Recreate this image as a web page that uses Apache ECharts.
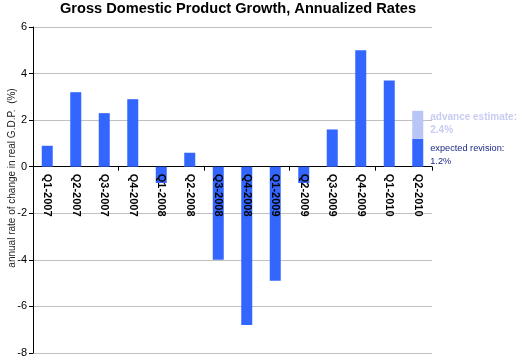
<!DOCTYPE html>
<html>
<head>
<meta charset="utf-8">
<script src="https://cdn.jsdelivr.net/npm/echarts@6/dist/echarts.min.js"></script>
<style>html,body{margin:0;padding:0;background:#fff;}#c{width:522px;height:360px;}</style>
</head>
<body>
<div id="c"></div>
<script>
var categories = ['Q1-2007','Q2-2007','Q3-2007','Q4-2007','Q1-2008','Q2-2008','Q3-2008','Q4-2008','Q1-2009','Q2-2009','Q3-2009','Q4-2009','Q1-2010','Q2-2010'];
var gdpGrowth = [0.9, 3.2, 2.3, 2.9, -0.7, 0.6, -4.0, -6.8, -4.9, -0.7, 1.6, 5.0, 3.7, 1.2];
var advanceExtra = [null, null, null, null, null, null, null, null, null, null, null, null, null, 1.2];
var labelAnchor = [0, 0, 0, 0, 0, 0, 0, 0, 0, 0, 0, 0, 0, 0];
var advanceEstimate = 2.4;
var expectedRevision = 1.2;
var yTicks = {min: -8, max: 6, interval: 2};

var lastIdx = categories.length - 1;
var darkData = gdpGrowth.map(function (v, i) {
  if (i === lastIdx) {
    return {
      value: v,
      label: {
        show: true,
        position: [18, 3],
        formatter: 'expected revision:\n' + expectedRevision.toFixed(1) + '%',
        color: '#1c2a86',
        fontFamily: 'Liberation Sans',
        fontSize: 9.2,
        lineHeight: 13,
        align: 'left',
        verticalAlign: 'top'
      }
    };
  }
  return v;
});
var lightData = advanceExtra.map(function (v, i) {
  if (v !== null && i === lastIdx) {
    return {
      value: v,
      label: {
        show: true,
        position: [18, 0],
        formatter: 'advance estimate:\n' + advanceEstimate.toFixed(1) + '%',
        color: '#c9ccf2',
        fontFamily: 'Liberation Sans',
        fontWeight: 'bold',
        fontSize: 10,
        lineHeight: 13,
        align: 'left',
        verticalAlign: 'top'
      }
    };
  }
  return v;
});

var chart = echarts.init(document.getElementById('c'), null, {renderer: 'canvas'});
chart.setOption({
  animation: false,
  backgroundColor: '#ffffff',
  title: {
    text: 'Gross Domestic Product Growth, Annualized Rates',
    left: 238, textAlign: 'center', top: 1, padding: 0,
    textStyle: {fontFamily: 'Liberation Sans', fontWeight: 'bold', fontSize: 14.6, color: '#000'}
  },
  grid: {left: 33, right: 90, top: 27, bottom: 7, containLabel: false, outerBoundsMode: 'none'},
  xAxis: {
    type: 'category',
    data: categories,
    axisLine: {onZero: true, lineStyle: {color: '#000', width: 1}},
    axisTick: {show: true, length: 4, alignWithLabel: false, lineStyle: {color: '#000'}},
    axisLabel: {show: false},
    splitLine: {show: false}
  },
  yAxis: {
    type: 'value',
    min: yTicks.min, max: yTicks.max, interval: yTicks.interval,
    name: 'annual rate of change in real G.D.P.  (%)',
    nameLocation: 'middle', nameGap: 16, nameRotate: 90, nameMoveOverlap: false,
    nameTextStyle: {fontFamily: 'Liberation Sans', fontSize: 10, color: '#222', padding: [0, 0, 0, 24]},
    axisLine: {show: true, lineStyle: {color: '#000', width: 1}},
    axisTick: {show: true, length: 4, lineStyle: {color: '#000'}},
    axisLabel: {margin: 6, fontFamily: 'Liberation Sans', fontSize: 11, color: '#000'},
    splitLine: {show: true, lineStyle: {color: '#c0c0c0', width: 1}}
  },
  series: [
    {
      type: 'bar', stack: 'gdp', data: labelAnchor, barWidth: 11, z: 6,
      silent: true,
      itemStyle: {color: 'rgba(0,0,0,0)'},
      label: {
        show: true, position: 'bottom', distance: 7, rotate: -90,
        align: 'left', verticalAlign: 'middle',
        formatter: function (p) { return categories[p.dataIndex]; },
        fontFamily: 'Liberation Sans', fontWeight: 'bold', fontSize: 11, color: '#000'
      }
    },
    {
      type: 'bar', stack: 'gdp', data: darkData, barWidth: 11,
      itemStyle: {color: '#3366ff'}
    },
    {
      type: 'bar', stack: 'gdp', data: lightData, barWidth: 11,
      itemStyle: {color: '#b8c5f6'}
    }
  ]
});
</script>
</body>
</html>
